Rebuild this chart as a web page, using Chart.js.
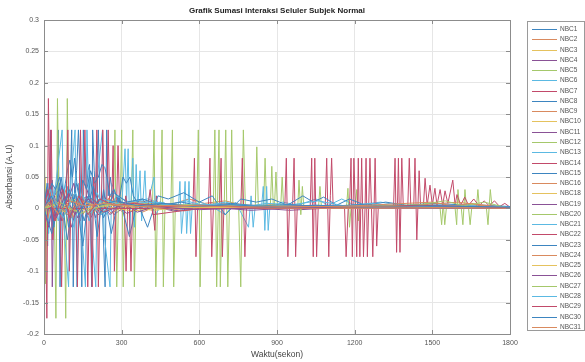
<!DOCTYPE html>
<html>
<head>
<meta charset="utf-8">
<script src="https://cdn.jsdelivr.net/npm/chart.js@4.4.1/dist/chart.umd.min.js"></script>
<style>
  html, body { margin: 0; padding: 0; background: #fff; }
  #wrap { position: relative; width: 585px; height: 362px; }
</style>
</head>
<body>
<div id="wrap"><canvas id="chart"></canvas></div>
<script>
const chartTitle = 'Grafik Sumasi Interaksi Seluler Subjek Normal'
const xTitle = 'Waktu(sekon)'
const yTitle = 'Absorbansi (A.U)'

const xTickValues = [0, 300, 600, 900, 1200, 1500, 1800]
const yTickValues = [0.3, 0.25, 0.2, 0.15, 0.1, 0.05, 0, -0.05, -0.1, -0.15, -0.2]
const yTickLabels = ['0.3', '0.25', '0.2', '0.15', '0.1', '0.05', '0', '-0.05', '-0.1', '-0.15', '-0.2']

const seriesLabels = ['NBC1', 'NBC2', 'NBC3', 'NBC4', 'NBC5', 'NBC6', 'NBC7', 'NBC8', 'NBC9', 'NBC10',
  'NBC11', 'NBC12', 'NBC13', 'NBC14', 'NBC15', 'NBC16', 'NBC18', 'NBC19', 'NBC20', 'NBC21',
  'NBC22', 'NBC23', 'NBC24', 'NBC25', 'NBC26', 'NBC27', 'NBC28', 'NBC29', 'NBC30', 'NBC31']

// matlab default colour order, washed out like the scan
const palette = ['#3d85c0', '#d98a5f', '#e5c25e', '#8a5296', '#a5c86b', '#5bb9e2', '#c24a6a']

// [time, absorbance] pairs
const nbc1 = [[0,0],[8,0.03],[14,-0.06],[20,0.04],[26,0.02],[32,0.045],[38,0.01],[44,0.035],[50,0.005],[55,0.125],[62,-0.125],[68,0.02],[76,0.03],[84,0.01],[92,0.035],[100,0.02],[107,0.125],[113,-0.125],[119,0.04],[126,0.06],[133,0.125],[140,0.05],[146,-0.125],[152,0.125],[158,0.04],[164,0.03],[170,0.06],[176,0.07],[184,-0.125],[188,0.125],[194,0.06],[200,0.02],[210,0.125],[216,0.01],[224,0.02],[236,-0.125],[242,0.125],[248,0.02],[256,0.05],[262,0.03],[270,0.01],[280,0.02],[290,0.005],[300,0.01],[320,0],[360,0.004],[420,0],[520,0.003],[700,0],[900,0.002],[1200,0],[1500,0.002],[1800,0]]
const nbc2 = [[0,0],[15,0.02],[30,-0.01],[50,0.015],[70,-0.02],[95,0.01],[120,0.025],[150,-0.01],[185,0.015],[220,0.005],[260,0.02],[300,-0.005],[350,0.01],[420,0.012],[480,0.005],[560,0.015],[620,0.008],[700,0.012],[780,0.004],[880,0.006],[1000,0.003],[1200,0.004],[1500,0.002],[1800,0.001]]
const nbc3 = [[0,0],[4,0.05],[10,-0.03],[25,0.01],[45,0.02],[80,-0.01],[110,0.015],[160,0.01],[220,-0.008],[300,0.006],[420,0.004],[600,0.003],[900,0.002],[1300,0.001],[1800,0]]
const nbc4 = [[0,0],[20,0.02],[26,0.125],[32,-0.125],[38,0.02],[60,0.03],[90,0.01],[115,0.04],[140,-0.02],[170,0.03],[200,-0.015],[232,0.02],[270,-0.01],[330,0.008],[400,0.005],[500,-0.004],[650,0.004],[800,0],[1000,0.003],[1300,0],[1800,0]]
const nbc5 = [[0,0],[1,0.175],[6,-0.12],[12,0],[40,0],[46,-0.175],[52,0.175],[58,0],[78,0],[84,-0.175],[90,0.175],[96,0],[268,0],[274,0.125],[281,-0.125],[287,0],[294,0],[300,0.125],[306,-0.125],[312,0],[337,0],[343,0.125],[349,-0.125],[355,0],[419,0],[425,0.125],[432,-0.125],[438,0],[450,0],[456,0.125],[461,-0.125],[467,0],[490,0],[496,0.125],[501,-0.125],[507,0],[590,0],[596,0.125],[603,-0.125],[609,0],[654,0],[660,0.125],[667,-0.125],[673,0],[696,0],[702,0.125],[710,-0.125],[716,0],[752,0],[760,-0.125],[770,0.125],[778,0],[816,0],[822,0.098],[828,0],[848,0],[854,0.08],[860,0],[874,0],[880,0.067],[886,0],[890,0],[896,0.058],[902,0],[914,0],[920,0.05],[926,0],[1800,0]]
const nbc6 = [[0,0],[10,0.02],[18,-0.04],[28,0.03],[40,0.02],[70,0.125],[76,-0.02],[95,-0.125],[101,0.03],[120,0.125],[127,-0.125],[134,0.04],[160,-0.125],[166,0.125],[172,0.03],[200,-0.125],[206,0.05],[226,0.125],[232,-0.04],[255,-0.125],[261,0.04],[300,0],[313,0.095],[319,0.01],[325,0.095],[331,-0.04],[343,0.08],[349,-0.03],[356,0.07],[362,0],[371,0.06],[377,-0.02],[390,0.06],[396,0],[425,0.05],[431,-0.01],[460,0.01],[500,0],[560,0.004],[700,0],[1000,0.003],[1400,0],[1800,0.001]]
const nbc7 = [[0,0],[5,0],[11,-0.175],[17,0.175],[23,0],[28,0.125],[34,-0.05],[40,0],[62,0],[68,-0.125],[74,0],[123,0],[129,-0.125],[135,0],[152,0],[158,0.125],[164,0],[169,-0.125],[175,0],[198,0],[204,0.125],[210,-0.125],[216,0],[221,0],[227,0.125],[233,0],[242,0],[248,0.125],[254,0],[261,0],[267,0.1],[272,-0.1],[278,0],[280,0],[286,0.1],[292,0],[311,0],[317,-0.1],[323,0],[420,0],[428,-0.035],[434,0.02],[440,0],[1800,0]]
const nbc8 = [[0,0],[15,0.02],[30,0.04],[45,0.03],[60,0.05],[75,0.02],[90,0.06],[100,0.077],[110,0.05],[118,0.08],[127,0.04],[140,0.02],[150,0.045],[165,0.03],[180,0.06],[195,0.04],[210,0.05],[224,0.07],[235,0.065],[243,0.05],[255,0.02],[270,0.03],[290,0.01],[305,0.05],[318,0.04],[332,0.05],[345,0.02],[360,0.01],[380,0.015],[400,0.005],[450,0.01],[500,0],[600,0.004],[800,0.002],[1100,0.003],[1400,0.001],[1800,0]]
const nbc9 = [[0,0],[12,-0.02],[35,0.02],[58,-0.01],[85,0.03],[112,-0.015],[140,0.02],[175,0.01],[210,-0.01],[250,0.015],[300,0.005],[380,-0.006],[460,0.008],[560,0.004],[680,0.008],[820,0.003],[1000,0.004],[1250,0.002],[1550,0.003],[1800,0]]
const nbc10 = [[0,0],[25,0.015],[60,-0.01],[100,0.012],[150,-0.006],[220,0.01],[300,0.004],[420,-0.003],[600,0.004],[850,0.002],[1200,0.002],[1800,0]]
const nbc11 = [[0,0],[18,-0.03],[40,0.02],[66,-0.02],[95,0.025],[130,-0.015],[165,0.02],[210,-0.01],[260,0.012],[320,-0.008],[400,0.006],[520,-0.004],[700,0.004],[950,-0.003],[1200,0.003],[1500,0.002],[1800,0]]
const nbc12 = [[0,0],[670,0],[676,0.125],[681,-0.125],[688,0],[720,0],[725,0.125],[730,0],[980,0],[985,0.045],[992,-0.01],[998,0.035],[1004,0],[1060,0],[1066,0.035],[1072,0],[1168,0],[1174,0.032],[1180,-0.03],[1186,0],[1202,0],[1208,0.03],[1214,-0.02],[1220,0],[1530,0],[1536,-0.026],[1542,0.01],[1548,-0.026],[1554,0],[1588,0],[1594,-0.026],[1599,0.03],[1605,0],[1612,0],[1618,-0.026],[1626,0.03],[1632,0],[1640,0],[1646,-0.026],[1652,0],[1670,0],[1676,0.03],[1682,0],[1709,0],[1715,-0.026],[1724,0.03],[1731,0],[1800,0]]
const nbc13 = [[0,0],[40,0.01],[90,-0.01],[150,0.02],[220,-0.01],[300,0.01],[380,0.005],[450,0.01],[500,0],[519,0],[525,0.043],[531,-0.04],[539,0],[545,0.043],[551,-0.04],[556,0],[560,0.043],[566,-0.04],[572,0],[600,0.01],[640,0.005],[700,-0.01],[740,0.01],[790,-0.03],[800,0.02],[808,-0.03],[815,0],[840,0],[847,0.035],[853,-0.035],[860,0.035],[866,-0.035],[872,0],[920,0.01],[980,0.005],[1050,0.015],[1100,0.005],[1150,0.015],[1200,0.005],[1300,0.01],[1400,0.003],[1500,0.006],[1650,0.004],[1800,0.002]]
const nbc14 = [[0,0],[575,0],[581,0.08],[587,-0.077],[593,0],[635,0],[641,0.08],[648,-0.077],[654,0],[678,0],[684,0.08],[689,-0.077],[695,0],[760,0],[766,0.08],[776,-0.077],[782,0],[930,0],[936,0.08],[942,-0.077],[948,0],[960,0],[966,0.08],[972,-0.077],[978,0],[1028,0],[1034,0.08],[1040,-0.077],[1046,0.08],[1053,-0.077],[1059,0],[1086,0],[1092,0.08],[1100,-0.077],[1106,0.02],[1111,0.08],[1117,0],[1161,0],[1167,-0.077],[1175,0],[1180,0],[1186,0.08],[1191,-0.077],[1197,0.08],[1203,0],[1208,-0.077],[1214,0.08],[1220,-0.077],[1227,0.08],[1234,-0.077],[1240,0],[1244,0.08],[1249,-0.077],[1254,0],[1259,0.08],[1265,0],[1270,-0.077],[1275,0],[1279,0.08],[1285,-0.06],[1291,0],[1350,0],[1356,0.08],[1362,-0.07],[1369,0.08],[1375,-0.07],[1382,0.08],[1388,0],[1405,0],[1411,0.08],[1417,0],[1428,0],[1433,0.08],[1440,-0.05],[1449,0.06],[1455,0],[1465,0],[1472,0.048],[1480,0.005],[1491,0.037],[1500,0.005],[1510,0.032],[1518,0.005],[1530,0.03],[1540,0.005],[1549,0.028],[1560,0.008],[1579,0.045],[1588,0.005],[1595,0.022],[1610,0.005],[1625,0.018],[1640,0.005],[1660,0.015],[1680,0.004],[1700,0.012],[1720,0.004],[1740,0.012],[1760,0.003],[1780,0.008],[1800,0.002]]
const nbc15 = [[0,0],[30,-0.04],[60,0.04],[90,-0.05],[120,0.03],[150,-0.06],[180,0.05],[205,-0.045],[230,0.03],[260,-0.04],[290,0.02],[330,-0.045],[360,0.01],[400,-0.03],[440,0.02],[480,0.015],[540,0.025],[600,0.01],[650,0.02],[700,-0.01],[760,0.015],[820,0.01],[880,0.015],[940,0.005],[1000,0.02],[1040,0.01],[1080,0.018],[1130,0.005],[1180,0.015],[1240,0.005],[1320,0.01],[1400,0.005],[1500,0.008],[1600,0.006],[1700,0.005],[1800,0.003]]
const nbc16 = [[0,0],[20,0.03],[45,-0.02],[75,0.025],[105,-0.015],[135,0.02],[170,-0.01],[210,0.015],[260,-0.008],[330,0.01],[420,0.006],[540,-0.004],[700,0.006],[900,0.004],[1100,0.002],[1400,0.004],[1600,0.01],[1700,0.004],[1800,0]]
const nbc18 = [[0,0],[30,0.008],[80,-0.006],[140,0.01],[220,0.004],[340,-0.004],[500,0.003],[800,0.002],[1200,0.001],[1800,0]]
const nbc19 = [[0,0],[10,0.03],[35,-0.02],[70,0.035],[105,-0.03],[140,0.02],[175,-0.02],[215,0.015],[255,-0.01],[300,0.01],[360,-0.006],[450,0.006],[600,0.003],[800,-0.003],[1000,0.002],[1300,0.002],[1800,0]]
const nbc20 = [[0,0],[20,0.02],[50,-0.01],[90,0.015],[130,0.01],[180,-0.01],[240,0.012],[320,0.005],[420,0.008],[560,0.003],[760,0.005],[1000,0.002],[1300,0.004],[1600,0.002],[1800,0]]
const nbc21 = [[0,0],[25,0.03],[55,-0.02],[85,0.04],[115,-0.03],[145,0.03],[175,-0.02],[205,0.025],[240,-0.01],[280,0.02],[330,0.01],[400,0.015],[470,0.005],[550,0.012],[620,0.004],[700,0.01],[780,0.003],[860,0.008],[960,0.006],[1060,0.012],[1160,0.004],[1260,0.008],[1380,0.003],[1520,0.005],[1660,0.003],[1800,0.001]]
const nbc22 = [[0,0],[85,0],[92,0.125],[98,-0.1],[104,0],[135,0],[141,0.125],[147,0],[180,0],[186,-0.125],[192,0.05],[198,0],[310,0],[316,0.02],[322,0],[330,0],[336,-0.1],[342,0],[400,0],[410,0.03],[420,-0.01],[600,0],[1800,0]]
const nbc23 = [[0,0],[12,0.04],[38,-0.03],[66,0.05],[95,-0.03],[125,0.04],[155,-0.02],[190,0.035],[230,-0.015],[270,0.025],[320,0.01],[380,0.015],[450,0.005],[530,0.01],[620,0.003],[720,0.008],[830,0.004],[950,0.006],[1080,0.003],[1220,0.006],[1400,0.002],[1600,0.004],[1800,0.001]]
const nbc24 = [[0,0],[40,0.015],[90,-0.01],[150,0.012],[230,-0.005],[330,0.008],[460,0.003],[650,0.005],[900,0.002],[1200,0.004],[1500,0.01],[1580,0.004],[1650,0.008],[1800,0]]
const nbc25 = [[0,0],[50,0.006],[120,-0.004],[250,0.005],[450,0.002],[800,0.001],[1800,0]]
const nbc26 = [[0,0],[22,0.02],[48,-0.015],[80,0.02],[120,-0.01],[170,0.015],[230,-0.006],[310,0.006],[420,0.003],[600,-0.002],[900,0.002],[1300,0.001],[1800,0]]
const nbc27 = [[0,0],[60,0.01],[140,-0.008],[240,0.006],[380,0.004],[560,0.006],[760,0.003],[980,0.004],[1180,0.002],[1450,0.006],[1550,0.012],[1620,0.004],[1700,0.01],[1800,0]]
const nbc28 = [[0,0],[35,0.02],[75,-0.015],[120,0.025],[170,-0.01],[230,0.015],[300,0.005],[400,0.01],[520,0.004],[680,0.007],[860,0.003],[1050,0.005],[1250,0.002],[1500,0.004],[1800,0.002]]
const nbc29 = [[0,0],[15,0.03],[42,-0.02],[72,0.03],[100,-0.015],[135,0.02],[170,-0.01],[215,0.015],[270,0.005],[350,0.008],[450,0.003],[600,0.005],[800,0.002],[1000,0.004],[1200,0.002],[1450,0.005],[1800,0.001]]
const nbc30 = [[0,0],[28,0.02],[62,-0.01],[98,0.03],[135,-0.01],[172,0.02],[215,0.005],[280,0.012],[360,0.004],[460,0.008],[580,0.003],[720,0.006],[880,0.002],[1050,0.005],[1250,0.002],[1500,0.004],[1800,0.002]]
const nbc31 = [[0,0],[18,0.01],[55,-0.008],[100,0.012],[160,0.004],[240,0.008],[360,0.003],[520,0.005],[760,0.002],[1050,0.003],[1400,0.002],[1800,0]]

const seriesData = [nbc1, nbc2, nbc3, nbc4, nbc5, nbc6, nbc7, nbc8, nbc9, nbc10,
  nbc11, nbc12, nbc13, nbc14, nbc15, nbc16, nbc18, nbc19, nbc20, nbc21,
  nbc22, nbc23, nbc24, nbc25, nbc26, nbc27, nbc28, nbc29, nbc30, nbc31]

const FONT = '"Liberation Sans", Arial, sans-serif'

const datasets = seriesLabels.map((label, i) => ({
  label,
  data: seriesData[i].map(([x, y]) => ({ x, y })),
  borderColor: palette[i % palette.length],
  borderWidth: 1,
  pointRadius: 0,
  tension: 0,
  fill: false,
  // later series sit on top, like matlab
  order: seriesLabels.length - i
}))

// box, inward ticks, titles and the boxed legend
const matlabFrame = {
  id: 'matlabFrame',
  afterDraw(chart) {
    const { ctx, chartArea: a, scales } = chart
    ctx.save()

    ctx.strokeStyle = '#8c8c8c'
    ctx.lineWidth = 1
    ctx.strokeRect(Math.round(a.left) + 0.5, Math.round(a.top) + 0.5,
      Math.round(a.right - a.left), Math.round(a.bottom - a.top))

    ctx.beginPath()
    xTickValues.forEach(v => {
      const px = Math.round(scales.x.getPixelForValue(v)) + 0.5
      ctx.moveTo(px, a.bottom); ctx.lineTo(px, a.bottom - 4)
      ctx.moveTo(px, a.top); ctx.lineTo(px, a.top + 4)
    })
    yTickValues.forEach(v => {
      const py = Math.round(scales.y.getPixelForValue(v)) + 0.5
      ctx.moveTo(a.left, py); ctx.lineTo(a.left + 4, py)
      ctx.moveTo(a.right, py); ctx.lineTo(a.right - 4, py)
    })
    ctx.stroke()

    const cx = (a.left + a.right) / 2
    ctx.fillStyle = '#222'
    ctx.textAlign = 'center'
    ctx.textBaseline = 'middle'
    ctx.font = `bold 8px ${FONT}`
    ctx.fillText(chartTitle, cx, 11)

    ctx.fillStyle = '#444'
    ctx.font = `8.5px ${FONT}`
    ctx.fillText(xTitle, cx, 355)

    ctx.save()
    ctx.translate(10, (a.top + a.bottom) / 2)
    ctx.rotate(-Math.PI / 2)
    ctx.fillText(yTitle, 0, 0)
    ctx.restore()

    // legend
    const lx = 527.5, ly = 21.5, lw = 57, lh = 309
    ctx.fillStyle = '#fff'
    ctx.fillRect(lx, ly, lw, lh)
    ctx.strokeStyle = '#9a9a9a'
    ctx.strokeRect(lx, ly, lw, lh)
    ctx.font = `6.5px ${FONT}`
    ctx.textAlign = 'left'
    chart.data.datasets.forEach((ds, i) => {
      const y = Math.round(29 + i * 10.27) + 0.5
      ctx.strokeStyle = ds.borderColor
      ctx.beginPath()
      ctx.moveTo(532, y)
      ctx.lineTo(557, y)
      ctx.stroke()
      ctx.fillStyle = '#555'
      ctx.fillText(ds.label, 560, y)
    })

    ctx.restore()
  }
}

new Chart(document.getElementById('chart'), {
  type: 'line',
  data: { datasets },
  options: {
    responsive: true,
    maintainAspectRatio: false,
    animation: false,
    devicePixelRatio: 1,
    layout: { padding: { top: 20, right: 75, left: 0, bottom: 0 } },
    plugins: {
      legend: { display: false },
      tooltip: { enabled: false },
      title: { display: false }
    },
    scales: {
      x: {
        type: 'linear',
        min: 0,
        max: 1800,
        afterFit: s => { s.height = 28 },
        afterBuildTicks: s => { s.ticks = xTickValues.map(value => ({ value })) },
        ticks: {
          color: '#555',
          font: { size: 7, family: FONT },
          padding: 5,
          maxRotation: 0,
          callback: v => String(v)
        },
        grid: { color: '#e6e6e6', drawTicks: false },
        border: { display: false }
      },
      y: {
        type: 'linear',
        min: -0.2,
        max: 0.3,
        afterFit: s => { s.width = 44 },
        afterBuildTicks: s => { s.ticks = yTickValues.map(value => ({ value })) },
        ticks: {
          color: '#555',
          font: { size: 7, family: FONT },
          padding: 5,
          callback: (v, i) => yTickLabels[i]
        },
        grid: { color: '#e6e6e6', drawTicks: false },
        border: { display: false }
      }
    }
  },
  plugins: [matlabFrame]
})
</script>
</body>
</html>
